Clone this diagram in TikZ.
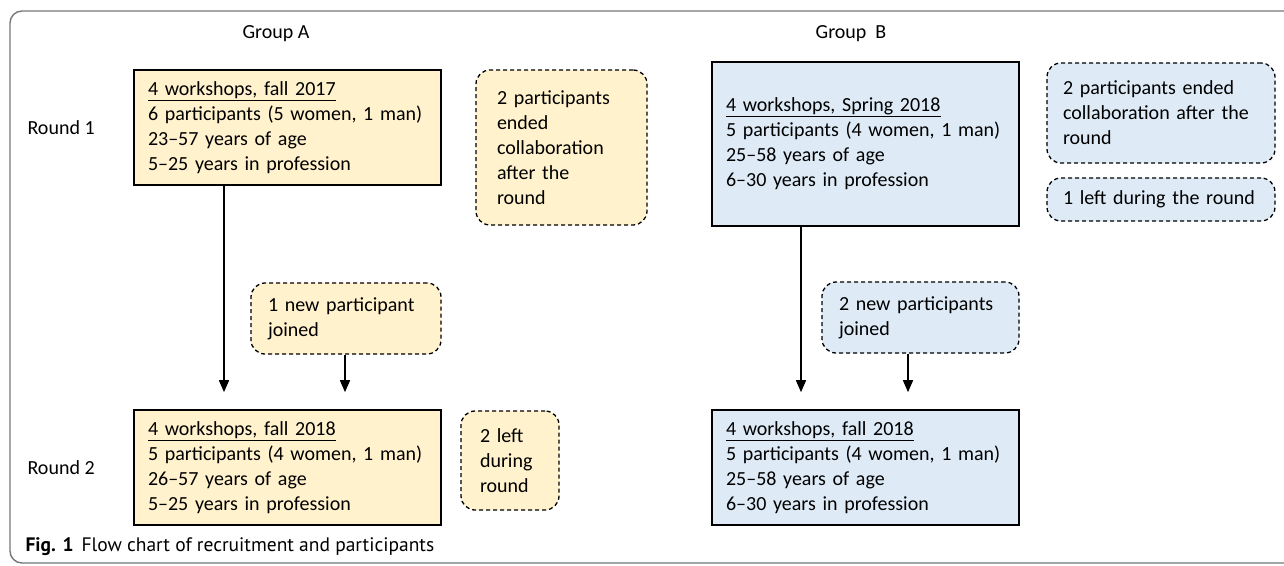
\documentclass[tikz,border=0pt]{standalone}
\usepackage{fontspec}
\setmainfont{Carlito}
\newfontfamily\capfont{PT Sans}
\usetikzlibrary{arrows.meta}

\definecolor{yelfill}{HTML}{FFF2CC}
\definecolor{blufill}{HTML}{DEEBF7}
\definecolor{framegray}{HTML}{777777}

\begin{document}
\begin{tikzpicture}[x=1pt, y=-1pt,
  font=\fontsize{20}{25}\selectfont,
  stage/.style = {draw, line width=1.6pt, align=left, inner ysep=0pt, inner xsep=14pt,
    text width=279pt},
  note/.style = {draw, dash pattern=on 4pt off 3pt, line width=1.3pt, rounded corners=14pt,
    align=left, inner ysep=0pt, inner xsep=17pt},
  arr/.style = {-{Triangle[length=12pt,width=10pt]}, line width=1.5pt, shorten >=17pt},
  yel/.style = {fill=yelfill}, blu/.style = {fill=blufill}]
\useasboundingbox (0,0) rectangle (1284,565);
\draw[framegray, line width=1.4pt, rounded corners=12pt] (10,11) rectangle (1320,563);

% headings
\node (gA) at (276,34) {Group A};
\node (gB) at (851,34) {Group\ \ B};
\node[anchor=west] (r1) at (24,128) {Round 1};
\node[anchor=west] (r2) at (24,468) {Round 2};

% group A
\node[stage, yel, minimum height=115pt] (A1) at (287.5,127.5)
  {\underline{4 workshops, fall 2017}\\6 participants (5 women, 1 man)\\23--57 years of age\\5--25 years in profession};
\node[note, yel, inner xsep=21pt, text width=129pt, minimum height=155pt] (Aend) at (561.5,147.5)
  {2 participants\\ended\\collaboration\\after the\\round};
\node[note, yel, text width=156pt, minimum height=71pt] (Anew) at (346,318.5)
  {1 new participant\\joined};
\node[stage, yel, minimum height=115pt] (A2) at (287.5,467.5)
  {\underline{4 workshops, fall 2018}\\5 participants (4 women, 1 man)\\26--57 years of age\\5--25 years in profession};
\node[note, yel, inner xsep=19pt, text width=60pt, minimum height=99pt] (Aleft) at (510,460.5)
  {2 left\\during\\round};

% group B
\node[stage, blu, minimum height=164pt] (B1) at (865.5,144)
  {\underline{4 workshops, Spring 2018}\\5 participants (4 women, 1 man)\\25--58 years of age\\6--30 years in profession};
\node[note, blu, inner xsep=16pt, text width=196pt, minimum height=100pt] (Bend) at (1161,113)
  {2 participants ended\\collaboration after the\\round};
\node[note, blu, inner xsep=16pt, text width=196pt, minimum height=43pt] (Bleft) at (1161,199.5)
  {1 left during the round};
\node[note, blu, text width=163pt, minimum height=71pt] (Bnew) at (920.5,317.5)
  {2 new participants\\joined};
\node[stage, blu, minimum height=115pt] (B2) at (865.5,467.5)
  {\underline{4 workshops, fall 2018}\\5 participants (4 women, 1 man)\\25--58 years of age\\6--30 years in profession};

% arrows
\coordinate (xa1) at (224,0);
\coordinate (xa2) at (345,0);
\coordinate (xb1) at (801,0);
\coordinate (xb2) at (908,0);
\draw[arr] (A1.south -| xa1) -- (A2.north -| xa1);
\draw[arr] (Anew.south -| xa2) -- (A2.north -| xa2);
\draw[arr] (B1.south -| xb1) -- (B2.north -| xb1);
\draw[arr] (Bnew.south -| xb2) -- (B2.north -| xb2);

% caption
\node[anchor=west, font=\capfont\fontsize{19.5}{22}\selectfont] (cap) at (22,547)
  {\textbf{Fig. 1}\hspace{8pt}Flow chart of recruitment and participants};
\end{tikzpicture}
\end{document}
